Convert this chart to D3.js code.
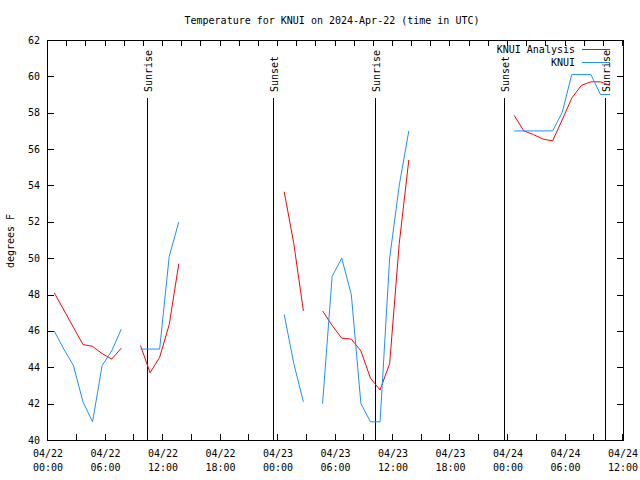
<!DOCTYPE html>
<html><head><meta charset="utf-8">
<script src="https://cdn.jsdelivr.net/npm/d3@7"></script>
<style>body{margin:0;background:#fff}svg{display:block}</style>
</head><body><svg id="c" width="640" height="480"></svg>
<script>
// ---- data ----
const title = "Temperature for KNUI on 2024-Apr-22 (time in UTC)";
const yLabel = "degrees F";
const firstTime = "2024-04-22T00:39:00Z"; // hourly series start
// hourly values, null = missing
const analysis = [48.1,47.15,46.2,45.25,45.15,44.75,44.45,45.05,
  null,
  45.2,43.7,44.55,46.35,49.7,
  null,null,null,null,null,null,null,null,null,null,
  53.65,50.8,47.1,
  null,
  47.1,46.3,45.6,45.55,44.9,43.4,42.75,44.2,50.8,55.4,
  null,null,null,null,null,null,null,null,null,null,
  57.85,57.0,56.8,56.55,56.45,57.6,58.8,59.5,59.7,59.7,59.5];
const observed = [46.0,45.0,44.1,42.1,41.0,44.1,44.9,46.1,
  null,
  45.0,45.0,45.0,50.1,52.0,
  null,null,null,null,null,null,null,null,null,null,
  46.9,44.2,42.1,
  null,
  42.0,49.0,50.0,48.0,42.0,41.0,41.0,50.0,54.0,57.0,
  null,null,null,null,null,null,null,null,null,null,
  57.0,57.0,57.0,57.0,57.0,58.0,60.1,60.1,60.1,59.0,59.0];
const seriesNames = ["KNUI Analysis","KNUI"];
const seriesColors = ["#ff0000","#1e90ff"];
const sunEvents = [
  {t:"2024-04-22T10:20:00Z", label:"Sunrise"},
  {t:"2024-04-22T23:29:00Z", label:"Sunset"},
  {t:"2024-04-23T10:08:00Z", label:"Sunrise"},
  {t:"2024-04-23T23:35:00Z", label:"Sunset"},
  {t:"2024-04-24T10:07:00Z", label:"Sunrise"}];
const xDomain = ["2024-04-22T00:00:00Z","2024-04-24T12:00:00Z"];
const yDomain = [40, 62];
const yTickValues = d3.range(40, 63, 2);

// ---- drawing ----
const L = 48, R = 623, T = 40, B = 440;
const svg = d3.select("#c");
const font = "DejaVu Sans Mono, monospace";
const x = d3.scaleUtc().domain(xDomain.map(d => new Date(d))).range([L, R]);
const y = d3.scaleLinear().domain(yDomain).range([B, T]);
const t0 = new Date(firstTime);
const times = analysis.map((_, i) => d3.utcHour.offset(t0, i));

svg.append("rect").attr("width",640).attr("height",480).attr("fill","#fff");

// ticks
const g = svg.append("g").attr("stroke","#000").attr("shape-rendering","crispEdges");
const majorX = d3.utcHour.every(6).range(x.domain()[0], d3.utcHour.offset(x.domain()[1],1));
const minorXb = d3.utcHour.every(3).range(x.domain()[0], d3.utcHour.offset(x.domain()[1],1));
const minorXt = d3.utcHour.every(2).range(x.domain()[0], d3.utcHour.offset(x.domain()[1],1));
minorXb.forEach(d => { const px = Math.round(x(d)) - 0.5;
  g.append("line").attr("x1",px).attr("x2",px).attr("y1",B).attr("y2",B-6); });
minorXt.forEach(d => { const px = Math.round(x(d)) - 0.5;
  g.append("line").attr("x1",px).attr("x2",px).attr("y1",T).attr("y2",T+6); });
yTickValues.forEach(v => { const py = Math.round(y(v)) + 0.5;
  g.append("line").attr("x1",L).attr("x2",L+6).attr("y1",py).attr("y2",py);
  g.append("line").attr("x1",R).attr("x2",R-6).attr("y1",py).attr("y2",py); });

// tick labels
const fmtD = d3.utcFormat("%m/%d"), fmtT = d3.utcFormat("%H:%M");
majorX.forEach(d => {
  const t = svg.append("text").attr("x", x(d)).attr("y", 457).attr("text-anchor","middle")
    .attr("font-family",font).attr("font-size",10);
  t.append("tspan").attr("x", x(d)).text(fmtD(d));
  t.append("tspan").attr("x", x(d)).attr("dy", 14).text(fmtT(d));
});
yTickValues.forEach(v => {
  svg.append("text").attr("x", 40).attr("y", y(v)).attr("dy","0.35em").attr("text-anchor","end")
    .attr("font-family",font).attr("font-size",10).text(v);
});

// sun events
sunEvents.forEach(e => {
  const px = Math.round(x(new Date(e.t))) + 0.5;
  svg.append("line").attr("x1",px).attr("x2",px).attr("y1",98).attr("y2",B)
    .attr("stroke","#000").attr("shape-rendering","crispEdges");
  svg.append("text").attr("transform",`translate(${px+4},92) rotate(-90)`)
    .attr("font-family",font).attr("font-size",10).text(e.label);
});

// series
const line = d3.line().defined(d => d[1] !== null).x(d => x(d[0])).y(d => y(d[1]));
[analysis, observed].forEach((vals, k) => {
  svg.append("path").datum(times.map((t, i) => [t, vals[i]]))
    .attr("d", line).attr("fill","none").attr("stroke", seriesColors[k]).attr("stroke-width",1);
});

// border
svg.append("rect").attr("x",L-0.5).attr("y",T+0.5).attr("width",R-L+0.5).attr("height",B-T)
  .attr("fill","none").attr("stroke","#000").attr("shape-rendering","crispEdges");

// legend
seriesNames.forEach((n, k) => {
  const ly = 49 + k*13;
  svg.append("text").attr("x",575).attr("y",ly).attr("dy","0.35em").attr("text-anchor","end")
    .attr("font-family",font).attr("font-size",10).text(n);
  svg.append("line").attr("x1",582).attr("x2",610).attr("y1",ly+0.5).attr("y2",ly+0.5)
    .attr("stroke",seriesColors[k]).attr("shape-rendering","crispEdges");
});

// title and axis label
svg.append("text").attr("x",332).attr("y",20).attr("dy","0.35em").attr("text-anchor","middle")
  .attr("font-family",font).attr("font-size",10).text(title);
svg.append("text").attr("transform","translate(10,241) rotate(-90)").attr("dy","0.35em")
  .attr("text-anchor","middle").attr("font-family",font).attr("font-size",10).text(yLabel);
</script></body></html>
